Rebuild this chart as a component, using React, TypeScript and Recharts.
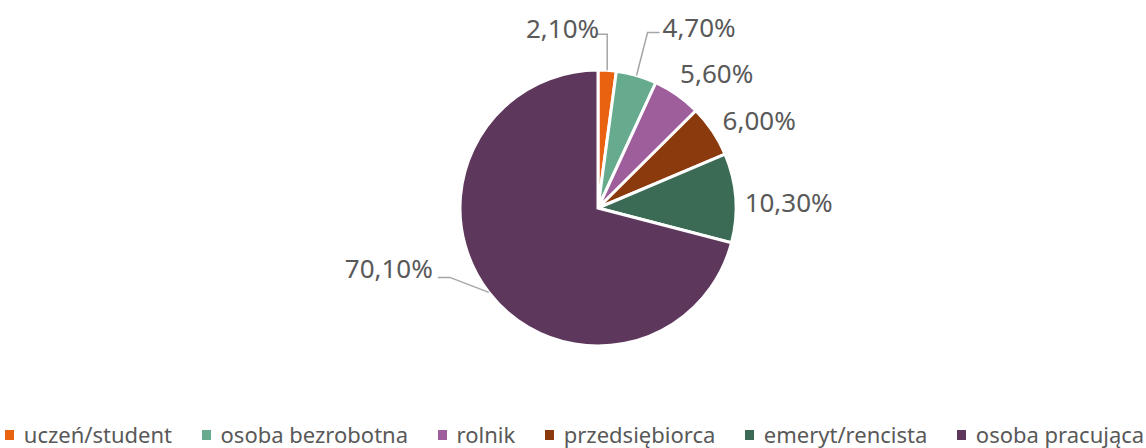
import React from 'react'
import { Legend, Pie, PieChart, Cell } from 'recharts'

const categories = ['uczeń/student', 'osoba bezrobotna', 'rolnik', 'przedsiębiorca', 'emeryt/rencista', 'osoba pracująca']
const values = [2.1, 4.7, 5.6, 6.0, 10.3, 70.1]
const labels = ['2,10%', '4,70%', '5,60%', '6,00%', '10,30%', '70,10%']
const colors = ['#E8620F', '#67AB8F', '#9D5E9B', '#8A3A0C', '#3B6B55', '#5E375C']

const data = categories.map((name, i) => ({ name, value: values[i], label: labels[i] }))

const TEXT = '#595959'
const FONT = '"Noto Sans", sans-serif'
const RAD = Math.PI / 180

// label placement relative to the slice's outer edge point (Excel "best fit")
const labelLayout = [
  { elbow: [0, -36], end: [-12, -36], text: [-8, -42], anchor: 'end' },
  { elbow: [11, -43], end: [23, -43], text: [26, -48], anchor: 'start' },
  { text: [3, -22], anchor: 'start' },
  { text: [10, -11], anchor: 'start' },
  { text: [9, 4], anchor: 'start' },
  { elbow: [-39, -15], end: [-51, -15], text: [-56, -24], anchor: 'end' },
]

function renderLabel(props: any) {
  const { cx, cy, midAngle, outerRadius, index } = props
  const ex = cx + outerRadius * Math.cos(-midAngle * RAD)
  const ey = cy + outerRadius * Math.sin(-midAngle * RAD)
  const l = labelLayout[index]
  return (
    <g key={`lbl-${index}`}>
      {l.elbow && (
        <polyline
          points={`${ex},${ey} ${ex + l.elbow[0]},${ey + l.elbow[1]} ${ex + l.end![0]},${ey + l.end![1]}`}
          fill="none"
          stroke="#A6A6A6"
          strokeWidth={1.5}
        />
      )}
      <text
        x={ex + l.text[0]}
        y={ey + l.text[1]}
        textAnchor={l.anchor as any}
        dominantBaseline="central"
        fill={TEXT}
        fontSize={26}
        fontFamily={FONT}
      >
        {data[index].label}
      </text>
    </g>
  )
}

function renderLegend() {
  return (
    <div style={{ display: 'flex', justifyContent: 'center', gap: 29.5, fontFamily: FONT, fontSize: 22, color: TEXT, paddingLeft: 3 }}>
      {categories.map((c, i) => (
        <div key={c} style={{ display: 'flex', alignItems: 'center', whiteSpace: 'nowrap' }}>
          <span style={{ display: 'inline-block', width: 9, height: 10, background: colors[i], marginRight: 10, marginTop: 2 }} />
          {c}
        </div>
      ))}
    </div>
  )
}

export default function App() {
  return (
    <div style={{ position: 'absolute', left: 0, top: 0, width: 1146, height: 448, overflow: 'hidden', background: '#fff' }}>
      <PieChart width={1146} height={448} margin={{ top: 0, right: 0, bottom: 0, left: 0 }}>
        <Pie
          data={data}
          dataKey="value"
          nameKey="name"
          cx={598}
          cy={208}
          outerRadius={138}
          startAngle={90}
          endAngle={-270}
          stroke="#fff"
          strokeWidth={3}
          label={renderLabel}
          labelLine={false}
          isAnimationActive={false}
        >
          {data.map((d, i) => (
            <Cell key={d.name} fill={colors[i]} />
          ))}
        </Pie>
        <Legend content={renderLegend} wrapperStyle={{ left: 0, top: 419, width: 1146 }} />
      </PieChart>
    </div>
  )
}
